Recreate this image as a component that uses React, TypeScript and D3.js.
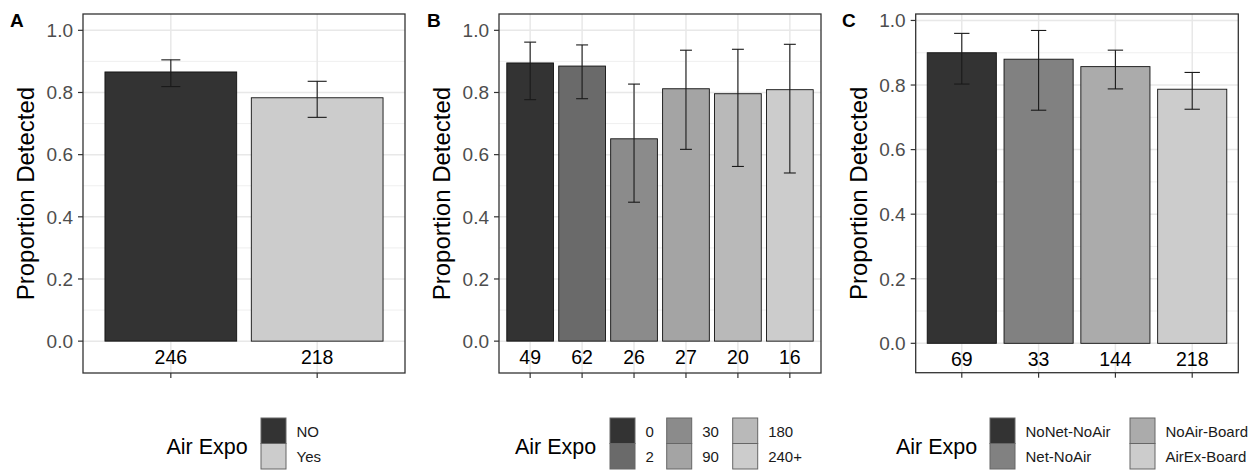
import React from 'react';
import * as d3 from 'd3';

// values
const catsA = ['NO', 'Yes'];
const propA = [0.866, 0.783];
const lowA = [0.819, 0.72];
const highA = [0.905, 0.836];
const nA = [246, 218];

const catsB = ['0', '2', '30', '90', '180', '240+'];
const propB = [0.895, 0.885, 0.651, 0.812, 0.796, 0.809];
const lowB = [0.777, 0.78, 0.447, 0.617, 0.562, 0.541];
const highB = [0.962, 0.953, 0.827, 0.936, 0.939, 0.955];
const nB = [49, 62, 26, 27, 20, 16];

const catsC = ['NoNet-NoAir', 'Net-NoAir', 'NoAir-Board', 'AirEx-Board'];
const propC = [0.9, 0.88, 0.857, 0.787];
const lowC = [0.803, 0.722, 0.788, 0.725];
const highC = [0.96, 0.969, 0.908, 0.839];
const nC = [69, 33, 144, 218];

const greysA = ['#333333', '#CCCCCC'];
const greysB = ['#333333', '#6A6A6A', '#8B8B8B', '#A4A4A4', '#B9B9B9', '#CCCCCC'];
const greysC = ['#333333', '#818181', '#ABABAB', '#CCCCCC'];

const yTicks = [0, 0.2, 0.4, 0.6, 0.8, 1.0];
const yMinor = [0.1, 0.3, 0.5, 0.7, 0.9];

const FONT = "'Liberation Sans', Arial, Helvetica, sans-serif";

function Panel(props) {
  const { cats, prop, low, high, n, fills, L } = props;
  const x = d3
    .scaleBand()
    .domain(cats)
    .range([L.x0, L.x1])
    .paddingInner(0.1)
    .paddingOuter(0.15);
  const y = d3.scaleLinear().domain(L.yDomain).range([L.y1, L.y0]);
  const bw = x.bandwidth();
  const step = x.step();
  const cx = (c) => x(c) + bw / 2;
  const cap = step * L.capFrac;

  const rows = L.legendRows;
  return (
    <g>
      <text x={L.tagX} y={27} fontSize={19} fontWeight="bold" fill="#000">
        {L.tag}
      </text>
      <rect x={L.x0} y={L.y0} width={L.x1 - L.x0} height={L.y1 - L.y0} fill="#fff" />
      {/* grid */}
      {yMinor.map((t) => (
        <line key={'mi' + t} x1={L.x0} x2={L.x1} y1={y(t)} y2={y(t)} stroke="#EBEBEB" strokeWidth={0.8} />
      ))}
      {yTicks.map((t) => (
        <line key={'ma' + t} x1={L.x0} x2={L.x1} y1={y(t)} y2={y(t)} stroke="#E8E8E8" strokeWidth={1.5} />
      ))}
      {cats.map((c) => (
        <line key={'vx' + c} x1={cx(c)} x2={cx(c)} y1={L.y0} y2={L.y1} stroke="#E8E8E8" strokeWidth={1.5} />
      ))}
      {/* bars */}
      {cats.map((c, i) => (
        <rect
          key={'b' + c}
          x={x(c)}
          y={y(prop[i])}
          width={bw}
          height={y(0) - y(prop[i])}
          fill={fills[i]}
          stroke="#111"
          strokeWidth={0.9}
        />
      ))}
      {/* error bars */}
      {cats.map((c, i) => (
        <g key={'e' + c} stroke="#1a1a1a" strokeWidth={1.1}>
          <line x1={cx(c)} x2={cx(c)} y1={y(high[i])} y2={y(low[i])} />
          <line x1={cx(c) - cap / 2} x2={cx(c) + cap / 2} y1={y(high[i])} y2={y(high[i])} />
          <line x1={cx(c) - cap / 2} x2={cx(c) + cap / 2} y1={y(low[i])} y2={y(low[i])} />
        </g>
      ))}
      {/* counts */}
      {cats.map((c, i) => (
        <text key={'n' + c} x={cx(c)} y={y(-0.05)} dy="0.36em" textAnchor="middle" fontSize={19.5} fill="#000">
          {n[i]}
        </text>
      ))}
      <rect x={L.x0} y={L.y0} width={L.x1 - L.x0} height={L.y1 - L.y0} fill="none" stroke="#333" strokeWidth={1.3} />
      {/* y axis */}
      {yTicks.map((t) => (
        <g key={'yt' + t}>
          <line x1={L.x0 - 5} x2={L.x0} y1={y(t)} y2={y(t)} stroke="#333" strokeWidth={1.2} />
          <text x={L.x0 - 10} y={y(t)} dy="0.36em" textAnchor="end" fontSize={19} fill="#4D4D4D">
            {d3.format('.1f')(t)}
          </text>
        </g>
      ))}
      {cats.map((c) => (
        <line key={'xt' + c} x1={cx(c)} x2={cx(c)} y1={L.y1} y2={L.y1 + 5} stroke="#333" strokeWidth={1.2} />
      ))}
      <text
        transform={'translate(' + L.titleX + ',' + (L.y0 + L.y1) / 2 + ') rotate(-90)'}
        textAnchor="middle"
        dy="0.36em"
        fontSize={24}
        fill="#000"
      >
        Proportion Detected
      </text>
      {/* legend */}
      <text x={L.legTitleX} y={446.5} dy="0.36em" fontSize={21.5} fill="#000">
        Air Expo
      </text>
      {cats.map((c, i) => {
        const col = Math.floor(i / rows);
        const row = i % rows;
        const kx = L.legKeyX[col];
        const ky = 418 + row * 25.5;
        return (
          <g key={'lg' + c}>
            <rect x={kx} y={ky} width={25} height={25.5} fill={fills[i]} stroke="#666" strokeWidth={1} />
            <text x={kx + 35.5} y={ky + 13.5} dy="0.36em" fontSize={15} fill="#1a1a1a">
              {c}
            </text>
          </g>
        );
      })}
    </g>
  );
}

const layoutA = {
  tag: 'A', tagX: 10, x0: 83, x1: 405, y0: 14, y1: 373, yDomain: [-0.1025, 1.0525],
  titleX: 25, capFrac: 0.13, legTitleX: 166.5, legKeyX: [261], legendRows: 2,
};
const layoutB = {
  tag: 'B', tagX: 427, x0: 499, x1: 821, y0: 14, y1: 373, yDomain: [-0.1025, 1.0525],
  titleX: 441.5, capFrac: 0.23, legTitleX: 515, legKeyX: [610, 666.7, 732.7], legendRows: 2,
};
const layoutC = {
  tag: 'C', tagX: 842, x0: 915.7, x1: 1238.3, y0: 14, y1: 372.7, yDomain: [-0.091, 1.02],
  titleX: 858, capFrac: 0.2, legTitleX: 896, legKeyX: [990, 1130], legendRows: 2,
};

export default function App() {
  return (
    <svg
      width={1254}
      height={470}
      style={{ position: 'absolute', left: 0, top: 0, background: '#fff', fontFamily: FONT }}
    >
      <rect width={1254} height={470} fill="#fff" />
      <Panel cats={catsA} prop={propA} low={lowA} high={highA} n={nA} fills={greysA} L={layoutA} />
      <Panel cats={catsB} prop={propB} low={lowB} high={highB} n={nB} fills={greysB} L={layoutB} />
      <Panel cats={catsC} prop={propC} low={lowC} high={highC} n={nC} fills={greysC} L={layoutC} />
    </svg>
  );
}
